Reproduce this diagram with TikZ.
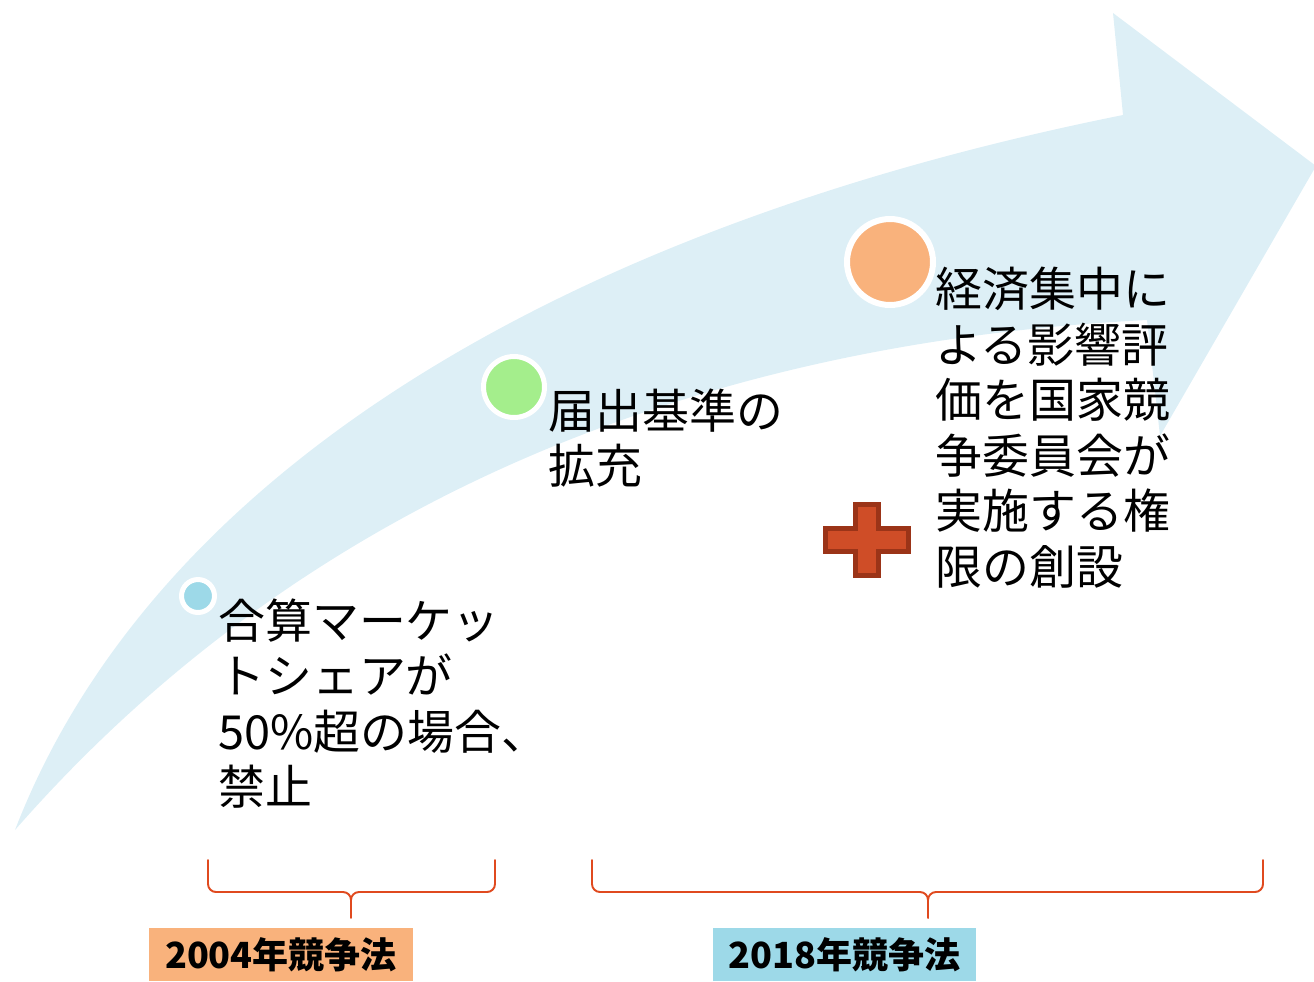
\documentclass[tikz,border=0pt]{standalone}
\usepackage{fontspec}
\newfontfamily\cjk{Noto Sans CJK JP}
\definecolor{arrowblue}{RGB}{221,239,246}
\definecolor{dotblue}{RGB}{157,217,232}
\definecolor{dotgreen}{RGB}{164,238,140}
\definecolor{dotorange}{RGB}{249,178,124}
\definecolor{braceorange}{RGB}{224,74,31}
\definecolor{plusfill}{RGB}{207,77,39}
\definecolor{plusedge}{RGB}{155,52,24}
\begin{document}
\begin{tikzpicture}[x=0.02cm,y=-0.02cm,
  dot/.style={circle, draw=white, inner sep=0pt},
  txt/.style={anchor=north west, inner sep=0pt, align=left, font=\cjk\fontsize{26.7}{31.6}\selectfont},
  lab/.style={inner sep=0pt, font=\cjk\bfseries\fontsize{20.5}{24}\selectfont, minimum width=5.28cm, minimum height=1.06cm},
  brace/.style={draw=braceorange, line width=1.1pt, line cap=round, line join=round}]
\useasboundingbox (0,0) rectangle (1314,981);
% big curved arrow
\fill[arrowblue] (15,830) .. controls (150,480) and (550,230) .. (1123,115)
  -- (1113,13) -- (1316,166) -- (1160,436) -- (1147,320)
  .. controls (750,340) and (330,470) .. (15,830) -- cycle;
% dots
\node[dot, fill=dotblue, minimum size=0.66cm, line width=0.1cm] (d1) at (198,596) {};
\node[dot, fill=dotgreen, minimum size=1.22cm, line width=0.1cm] (d2) at (514,387) {};
\node[dot, fill=dotorange, minimum size=1.72cm, line width=0.12cm] (d3) at (890,262) {};
% texts
\node[txt] (t1) at (218,598) {合算マーケッ\\トシェアが\\50\%超の場合、\\禁止};
\node[txt] (t2) at (548,388) {届出基準の\\拡充};
\node[txt] (t3) at (935,267) {経済集中に\\よる影響評\\価を国家競\\争委員会が\\実施する権\\限の創設};
% plus sign
\draw[fill=plusfill, draw=plusedge, line width=0.1cm, line join=miter]
  (855.5,504.5) -- (878.5,504.5) -- (878.5,528.5) -- (908.5,528.5) -- (908.5,551.5)
  -- (878.5,551.5) -- (878.5,575.5) -- (855.5,575.5) -- (855.5,551.5) -- (825.5,551.5)
  -- (825.5,528.5) -- (855.5,528.5) -- cycle;
% braces
\coordinate (b1m) at (351,900);
\draw[brace] (208,860) -- (208,884) to[out=-90,in=180] (216,892) -- (343,892) to[out=0,in=90] (b1m) -- (351,918);
\draw[brace] (495,860) -- (495,884) to[out=-90,in=0] (487,892) -- (359,892) to[out=180,in=90] (b1m);
\coordinate (b2m) at (928,900);
\draw[brace] (592,860) -- (592,884) to[out=-90,in=180] (600,892) -- (920,892) to[out=0,in=90] (b2m) -- (928,918);
\draw[brace] (1263,860) -- (1263,884) to[out=-90,in=0] (1255,892) -- (936,892) to[out=180,in=90] (b2m);
% labels
\node[lab, fill=dotorange] (l1) at (281,954.5) {2004年競争法};
\node[lab, fill=dotblue] (l2) at (844.5,954.5) {2018年競争法};
\end{tikzpicture}
\end{document}
